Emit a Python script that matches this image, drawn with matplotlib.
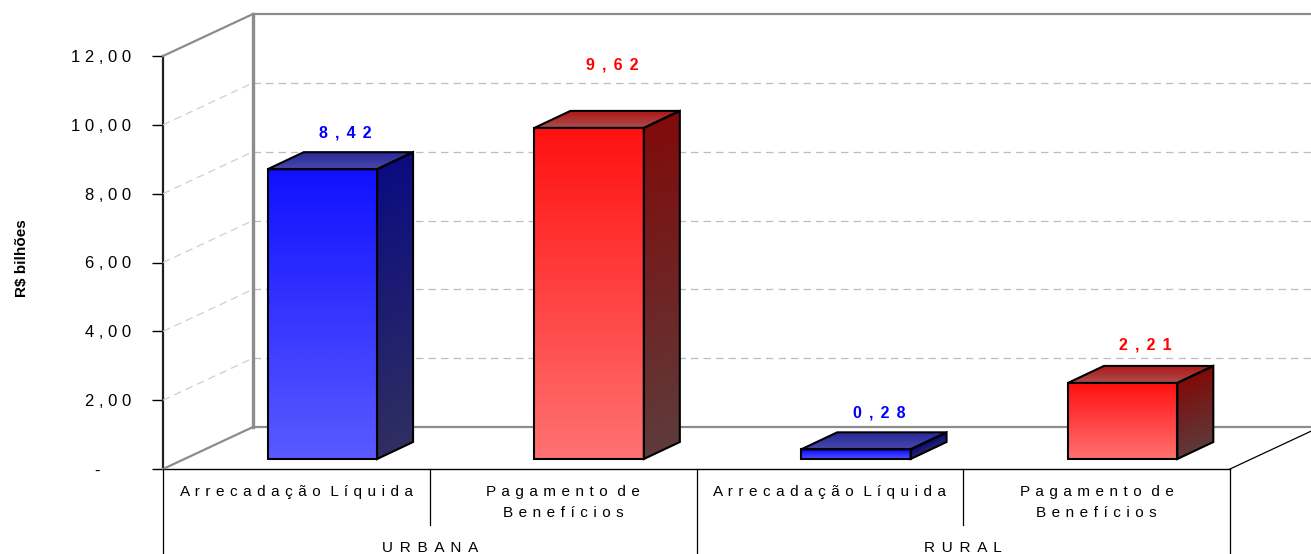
import matplotlib
matplotlib.use("Agg")
import matplotlib.pyplot as plt
import numpy as np
from matplotlib.patches import Polygon
from matplotlib.collections import PolyCollection
from matplotlib.lines import Line2D
from matplotlib.transforms import IdentityTransform
from matplotlib.colors import to_rgb

# ---------------- data ----------------
groups = ["URBANA", "RURAL"]
categories = ["Arrecadação Líquida", "Pagamento de\nBenefícios",
              "Arrecadação Líquida", "Pagamento de\nBenefícios"]
values = [8.42, 9.62, 0.28, 2.21]
value_labels = ["8,42", "9,62", "0,28", "2,21"]
yticks = [0, 2, 4, 6, 8, 10, 12]
ytick_labels = ["-", "2,00", "4,00", "6,00", "8,00", "10,00", "12,00"]
ylabel = "R\\$ bilhões"

# ---------------- style ----------------
W, H, DPI = 1311, 554, 100
FAM = ["Liberation Sans", "DejaVu Sans"]
plt.rcParams["font.family"] = FAM

WALL = (90, 42)       # depth of the chart box in px (display)
BAR_OFF = (26, 10)    # bar front-face offset from front plane
BAR_DEPTH = (36, 17)  # bar depth in px
BAR_W = 0.41          # bar width in category units
label_lift = [12, 38, 12, 13]  # px above bar top-back edge

blue = dict(front=("#5A5AFF", "#1010FF"), side=("#2E2E60", "#0A0A80"), top=("#4848AA", "#2A2A9A"), text="#0000FF")
red = dict(front=("#FF7272", "#FF1010"), side=("#5E3A3A", "#800A0A"), top=("#A85050", "#B01818"), text="#FF0000")
styles = [blue, red, blue, red]


def spaced(s, sep=" \u2006"):
    out = []
    for ln in s.split("\n"):
        words = [sep.join(list(w)) for w in ln.split(" ")]
        out.append((sep + " ").join(words))
    return "\n".join(out)


def tick_fmt(t):
    if t == "-":
        return "-" + "\u00a0" * 6 + "\u2006"
    return spaced(t, " ")


fig = plt.figure(figsize=(W / DPI, H / DPI), dpi=DPI)
ax = fig.add_axes([163 / W, 85 / H, 1067 / W, 413 / H])
ax.set_xlim(0, len(categories))
ax.set_ylim(0, 12)
for s in ["top", "right"]:
    ax.spines[s].set_visible(False)
ax.spines["left"].set_color("#202020")
ax.spines["left"].set_linewidth(1.6)
ax.spines["bottom"].set_color("black")
ax.spines["bottom"].set_linewidth(1.0)
ax.set_xticks([])
ax.set_yticks(yticks)
ax.set_yticklabels([tick_fmt(t) for t in ytick_labels], fontsize=12)
ax.tick_params(axis="y", length=8, width=1, pad=15, color="black")
ax.patch.set_alpha(0)
ax.set_ylabel(ylabel, fontsize=11, fontweight="bold", labelpad=0)
ax.yaxis.set_label_coords(-134 / 1067, 0.51)

ID = IdentityTransform()


def P(x, v, d=(0, 0)):
    px, py = ax.transData.transform((x, v))
    return (px + d[0], py + d[1])


def line(p, q, **kw):
    fig.add_artist(Line2D([p[0], q[0]], [p[1], q[1]], transform=ID, **kw))


def poly(pts, **kw):
    fig.add_artist(Polygon(pts, closed=True, transform=ID, **kw))


def grad_quad(b0, b1, t1, t0, c_bottom, c_top, n=80, z=3):
    cb, ct = np.array(to_rgb(c_bottom)), np.array(to_rgb(c_top))
    b0, b1, t1, t0 = map(np.array, (b0, b1, t1, t0))
    polys, cols = [], []
    for i in range(n):
        f0, f1 = i / n, (i + 1) / n
        l0 = b0 + (t0 - b0) * f0; r0 = b1 + (t1 - b1) * f0
        l1 = b0 + (t0 - b0) * f1; r1 = b1 + (t1 - b1) * f1
        polys.append([l0, r0, r1, l1])
        cols.append(cb + (ct - cb) * (f0 + f1) / 2)
    pc = PolyCollection(polys, facecolors=cols, edgecolors=cols, linewidths=0.6,
                        transform=ID, zorder=z)
    fig.add_artist(pc)


xmax = len(categories)
# ---------------- walls ----------------
gray = "#8C8C8C"
line(P(0, 0, WALL), P(0, 12, WALL), color=gray, lw=2.4, zorder=2)
line(P(0, 12, WALL), P(xmax, 12, WALL), color=gray, lw=1.6, zorder=2)
line(P(0, 0, WALL), P(xmax, 0, WALL), color=gray, lw=1.6, zorder=2)
line(P(0, 12), P(0, 12, WALL), color=gray, lw=1.6, zorder=2)
line(P(0, 0), P(0, 0, WALL), color=gray, lw=1.6, zorder=2)
line(P(xmax, 0), P(xmax, 0, WALL), color="black", lw=0.9, zorder=2)
for t in yticks[1:-1]:
    line(P(0, t, WALL), P(xmax, t, WALL), color="#BEBEBE", lw=0.9, ls=(0, (6, 4)), zorder=1)
    line(P(0, t), P(0, t, WALL), color="#CFCFCF", lw=0.9, ls=(0, (6, 4)), zorder=1)

# ---------------- bars ----------------
for i, (v, st) in enumerate(zip(values, styles)):
    x0, x1 = i + 0.5 - BAR_W / 2, i + 0.5 + BAR_W / 2
    fb0, fb1 = P(x0, 0, BAR_OFF), P(x1, 0, BAR_OFF)
    ft0, ft1 = P(x0, v, BAR_OFF), P(x1, v, BAR_OFF)
    D = BAR_DEPTH
    sb1 = (fb1[0] + D[0], fb1[1] + D[1])
    st1 = (ft1[0] + D[0], ft1[1] + D[1])
    st0 = (ft0[0] + D[0], ft0[1] + D[1])
    grad_quad(fb0, fb1, ft1, ft0, *st["front"])
    grad_quad(fb1, sb1, st1, ft1, *st["side"])
    grad_quad(ft0, ft1, st1, st0, *st["top"], n=30)
    for pts in ([fb0, fb1, ft1, ft0], [fb1, sb1, st1, ft1], [ft0, ft1, st1, st0]):
        poly(pts, fill=False, edgecolor="black", lw=1.5, joinstyle="miter", zorder=4)
    cx = (ft0[0] + st1[0]) / 2 + 5
    cy = st0[1] + label_lift[i]
    fig.text(cx / W, cy / H, spaced(value_labels[i]), color=st["text"], fontsize=11.5,
             fontweight="bold", ha="center", va="bottom", zorder=5)

# ---------------- category axis ----------------
for i, c in enumerate(categories):
    cx, _ = P(i + 0.5, 0)
    _, y0 = P(0, 0)
    fig.text(cx / W, (y0 - 16) / H, spaced(c, " \u200a"), fontsize=11, ha="center", va="top",
             linespacing=1.6)
for i in range(xmax + 1):
    p = P(i, 0)
    bottom = 0 if i % 2 == 0 else p[1] - 56
    line(p, (p[0], bottom), color="black", lw=0.9, zorder=2)
for g, name in enumerate(groups):
    cx, _ = P(2 * g + 1, 0)
    fig.text(cx / W, -1 / H, spaced(name), fontsize=11, ha="center", va="bottom")

fig.savefig("out.png", dpi=DPI)
